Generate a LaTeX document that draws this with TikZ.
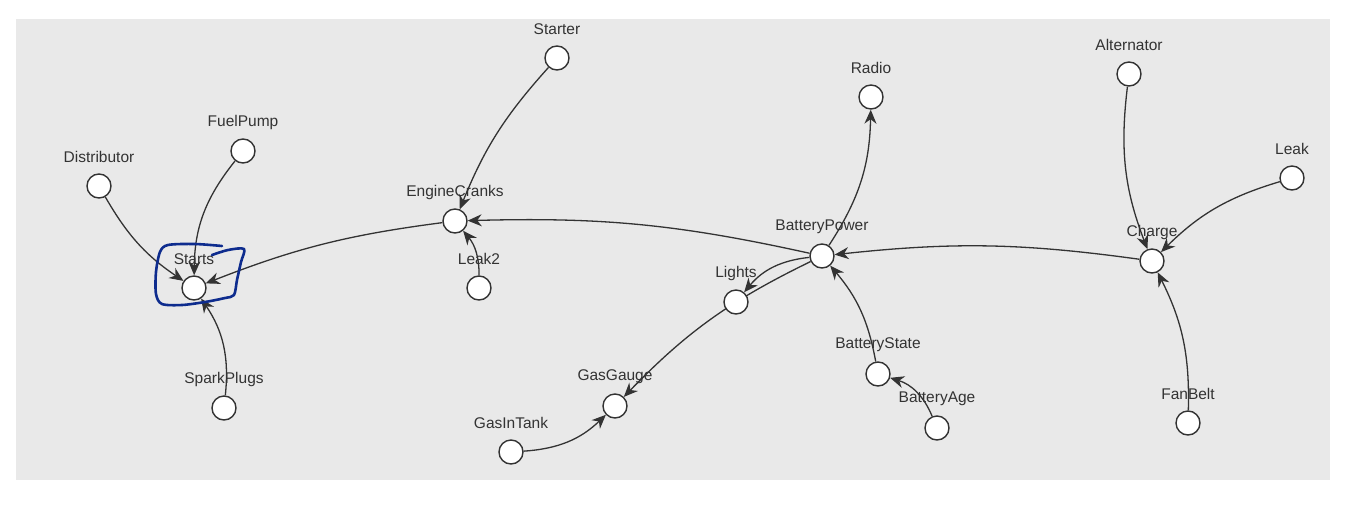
\documentclass[tikz,border=0pt]{standalone}
\usepackage{fontspec}
\setmainfont{Liberation Sans}
\usetikzlibrary{arrows.meta}
\definecolor{panel}{HTML}{E9E9E9}
\definecolor{ink}{HTML}{333333}
\definecolor{penblue}{HTML}{0E2C8E}
\pgfdeclarelayer{bg}
\pgfdeclarelayer{names}
\pgfdeclarelayer{links}
\pgfsetlayers{bg,names,links,main}

\begin{document}
\begin{tikzpicture}[x=1pt,y=1pt,
  var/.style={draw=ink,circle,fill=white,line width=1.4pt,minimum size=24pt,inner sep=0pt},
  lbl/.style={text=ink,font=\fontsize{15.5}{18}\selectfont,inner sep=0pt},
  link/.style={draw=ink,line width=1.3pt,-{Stealth[length=14pt,width=12pt,inset=4.5pt]}}]
\newcommand\carnode[3]{
\node[var] (#1) at (#2,-#3) {};
\begin{pgfonlayer}{names}
\node[lbl] (#1-l) at (#2,-#3+29) {#1};
\end{pgfonlayer}
}
\useasboundingbox (0,0) rectangle (1358,-504);
\begin{pgfonlayer}{bg}
\fill[panel] (16,-19) rectangle (1330,-480);
\end{pgfonlayer}
% variables
\carnode{Distributor}{99}{186}
\carnode{FuelPump}{243}{151}
\carnode{Starts}{194}{288}
\carnode{SparkPlugs}{224}{408}
\carnode{Starter}{557}{58}
\carnode{EngineCranks}{455}{221}
\carnode{Leak2}{479}{288}
\carnode{Radio}{871}{97}
\carnode{BatteryPower}{822}{256}
\carnode{Lights}{736}{302}
\carnode{GasGauge}{615}{406}
\carnode{GasInTank}{511}{452}
\carnode{BatteryState}{878}{374}
\carnode{BatteryAge}{937}{428}
\carnode{Alternator}{1129}{74}
\carnode{Leak}{1292}{178}
\carnode{Charge}{1152}{261}
\carnode{FanBelt}{1188}{423}
% dependencies
\begin{pgfonlayer}{links}
\draw[link] (Distributor) to[bend right=13] (Starts);
\draw[link] (FuelPump) to[bend right=19] (Starts);
\draw[link] (SparkPlugs) to[bend right=20] (Starts);
\draw[link] (EngineCranks) to[bend right=7] (Starts);
\draw[link] (Starter) to[bend right=10] (EngineCranks);
\draw[link] (Leak2) to[bend right=20] (EngineCranks);
\draw[link] (BatteryPower) to[bend right=7] (EngineCranks);
\draw[link] (BatteryPower) to[bend right=16] (Radio);
\draw[link] (BatteryPower) to[bend right=22] (Lights);
\draw[link] (BatteryPower) to[bend right=10] (GasGauge);
\draw[link] (GasInTank) to[bend right=20] (GasGauge);
\draw[link] (BatteryState) to[bend right=15] (BatteryPower);
\draw[link] (BatteryAge) to[bend right=25] (BatteryState);
\draw[link] (Charge) to[bend right=7] (BatteryPower);
\draw[link] (Alternator) to[bend right=14] (Charge);
\draw[link] (Leak) to[bend right=14] (Charge);
\draw[link] (FanBelt) to[bend right=14] (Charge);
\end{pgfonlayer}
% pen mark round Starts
\draw[penblue,line width=2.6pt,line cap=round,line join=round]
  plot[smooth,tension=0.5] coordinates {(222,-246) (195,-244) (168,-245) (160,-252)
  (156,-272) (156,-294) (162,-304) (182,-305) (205,-302) (225,-298) (234,-295)
  (237,-280) (241,-262) (244,-249) (228,-250) (212,-255)};
\end{tikzpicture}
\end{document}
